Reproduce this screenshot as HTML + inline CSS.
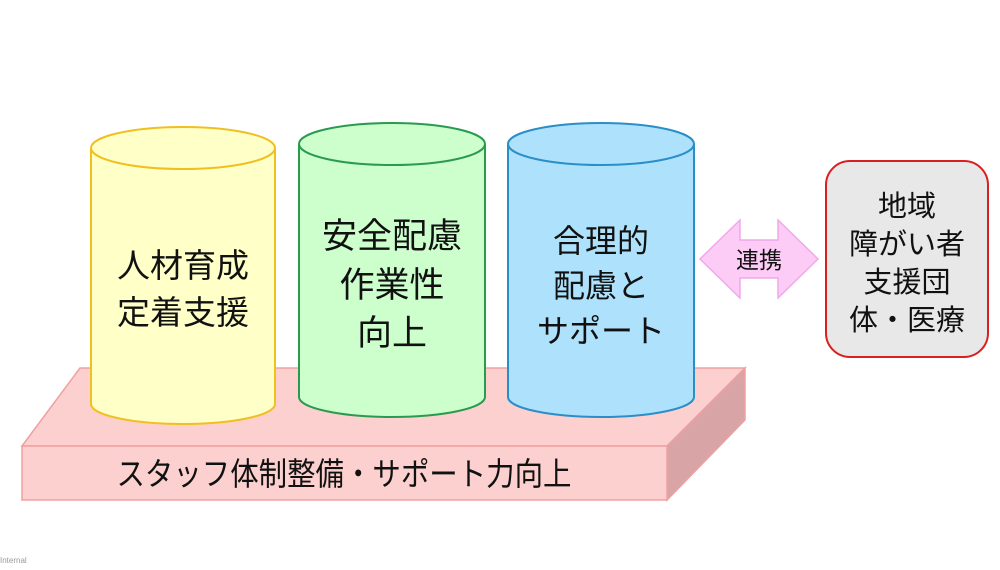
<!DOCTYPE html>
<html><head><meta charset="utf-8"><style>
body{margin:0;background:#fff;width:1000px;height:565px;overflow:hidden}
svg text{font-family:"Liberation Sans","Noto Sans CJK JP",sans-serif;fill:#111}
</style></head><body>
<svg width="1000" height="565" viewBox="0 0 1000 565">
<polygon points="22,446 80,368 745,368 667,446" fill="#fdd0d0" stroke="#f0a0a0" stroke-width="1.5"/>
<polygon points="667,446 745,368 745,420 667,500" fill="#d9a4a6" stroke="#f0a0a0" stroke-width="1.5"/>
<rect x="22" y="446" width="645" height="54" fill="#fdd0d0" stroke="#f0a0a0" stroke-width="1.5"/>
<text x="344" y="485" font-size="32" text-anchor="middle" textLength="455" lengthAdjust="spacingAndGlyphs">スタッフ体制整備・サポート力向上</text>
<path d="M91,148 L91,404 A92,20 0 0 0 275,404 L275,148" fill="#ffffc8" stroke="#f0c020" stroke-width="2"/>
<ellipse cx="183" cy="148" rx="92" ry="21" fill="#ffffc8" stroke="#f0c020" stroke-width="2"/>
<text x="183" y="277" font-size="33" text-anchor="middle">人材育成</text>
<text x="183" y="324" font-size="33" text-anchor="middle">定着支援</text>
<path d="M299,144 L299,397 A93,20 0 0 0 485,397 L485,144" fill="#ccffcc" stroke="#2a9a50" stroke-width="2"/>
<ellipse cx="392" cy="144" rx="93" ry="21" fill="#ccffcc" stroke="#2a9a50" stroke-width="2"/>
<text x="392" y="248" font-size="35" text-anchor="middle">安全配慮</text>
<text x="392" y="297" font-size="35" text-anchor="middle">作業性</text>
<text x="392" y="345" font-size="35" text-anchor="middle">向上</text>
<path d="M508,144 L508,397 A93,20 0 0 0 694,397 L694,144" fill="#aee2fc" stroke="#2a8ec8" stroke-width="2"/>
<ellipse cx="601" cy="144" rx="93" ry="21" fill="#aee2fc" stroke="#2a8ec8" stroke-width="2"/>
<text x="601" y="252" font-size="32" text-anchor="middle">合理的</text>
<text x="601" y="297" font-size="32" text-anchor="middle">配慮と</text>
<text x="601" y="342" font-size="32" text-anchor="middle">サポート</text>
<polygon points="700,259 740,220 740,240 778,240 778,220 818,259 778,298 778,278 740,278 740,298" fill="#fcccf6" stroke="#f0a8e8" stroke-width="1.5"/>
<text x="759" y="268" font-size="23" text-anchor="middle">連携</text>
<rect x="826" y="161" width="162" height="196" rx="24" fill="#e8e8e8" stroke="#d82020" stroke-width="2"/>
<text x="907" y="216" font-size="29" text-anchor="middle">地域</text>
<text x="907" y="254" font-size="29" text-anchor="middle">障がい者</text>
<text x="907" y="292" font-size="29" text-anchor="middle">支援団</text>
<text x="907" y="330" font-size="29" text-anchor="middle">体・医療</text>
<text x="0" y="563" font-size="8" style="fill:#999">Internal</text>
</svg>
</body></html>
